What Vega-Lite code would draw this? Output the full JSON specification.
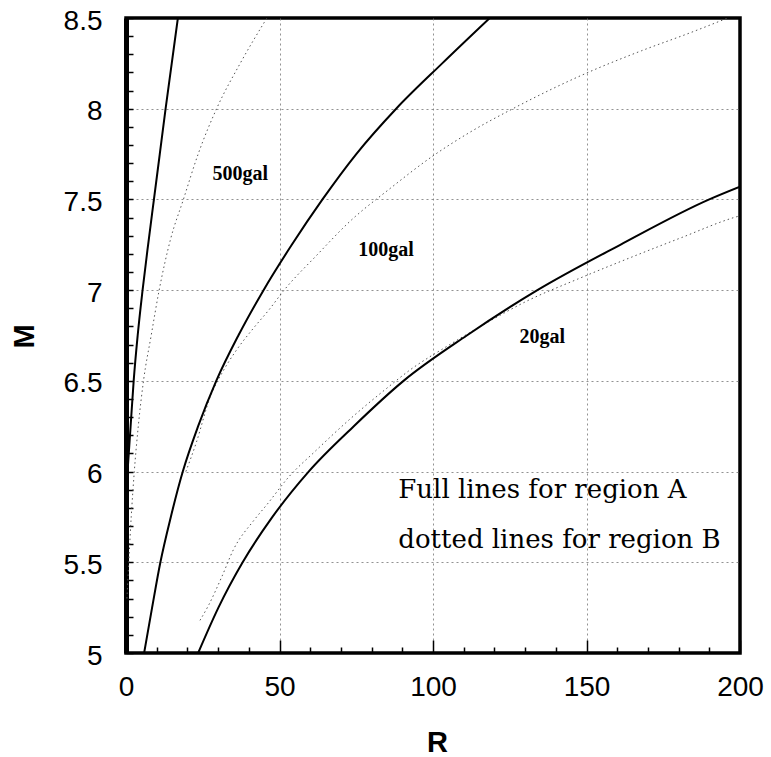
{
  "$schema": "https://vega.github.io/schema/vega-lite/v6.json",
  "width": 614,
  "height": 635,
  "autosize": {"type": "none"},
  "padding": {"left": 126, "top": 18, "right": 31, "bottom": 104},
  "background": "white",
  "config": {
    "view": {"stroke": "black", "strokeWidth": 3.5}
  },
  "datasets": {
    "curves": [
      {"curve": "500A", "region": "A", "R": 0.3, "M": 5.95},
      {"curve": "500A", "region": "A", "R": 1.5, "M": 6.25},
      {"curve": "500A", "region": "A", "R": 2.5, "M": 6.5},
      {"curve": "500A", "region": "A", "R": 3.8, "M": 6.75},
      {"curve": "500A", "region": "A", "R": 5.4, "M": 7.0},
      {"curve": "500A", "region": "A", "R": 7.2, "M": 7.25},
      {"curve": "500A", "region": "A", "R": 9.1, "M": 7.5},
      {"curve": "500A", "region": "A", "R": 11.0, "M": 7.75},
      {"curve": "500A", "region": "A", "R": 12.9, "M": 8.0},
      {"curve": "500A", "region": "A", "R": 14.9, "M": 8.25},
      {"curve": "500A", "region": "A", "R": 16.9, "M": 8.5},
      {"curve": "500B", "region": "B", "R": 0.3, "M": 5.3},
      {"curve": "500B", "region": "B", "R": 0.9, "M": 5.5},
      {"curve": "500B", "region": "B", "R": 1.7, "M": 5.75},
      {"curve": "500B", "region": "B", "R": 2.7, "M": 6.0},
      {"curve": "500B", "region": "B", "R": 4.0, "M": 6.25},
      {"curve": "500B", "region": "B", "R": 5.7, "M": 6.5},
      {"curve": "500B", "region": "B", "R": 8.2, "M": 6.75},
      {"curve": "500B", "region": "B", "R": 10.8, "M": 7.0},
      {"curve": "500B", "region": "B", "R": 14.5, "M": 7.28},
      {"curve": "500B", "region": "B", "R": 18.7, "M": 7.5},
      {"curve": "500B", "region": "B", "R": 23.5, "M": 7.75},
      {"curve": "500B", "region": "B", "R": 29.5, "M": 8.0},
      {"curve": "500B", "region": "B", "R": 37.2, "M": 8.25},
      {"curve": "500B", "region": "B", "R": 45.9, "M": 8.5},
      {"curve": "100A", "region": "A", "R": 5.9, "M": 5.0},
      {"curve": "100A", "region": "A", "R": 8.5, "M": 5.25},
      {"curve": "100A", "region": "A", "R": 11.2, "M": 5.5},
      {"curve": "100A", "region": "A", "R": 14.6, "M": 5.75},
      {"curve": "100A", "region": "A", "R": 18.5, "M": 6.0},
      {"curve": "100A", "region": "A", "R": 23.5, "M": 6.25},
      {"curve": "100A", "region": "A", "R": 29.4, "M": 6.5},
      {"curve": "100A", "region": "A", "R": 36.6, "M": 6.75},
      {"curve": "100A", "region": "A", "R": 44.8, "M": 7.0},
      {"curve": "100A", "region": "A", "R": 54.0, "M": 7.25},
      {"curve": "100A", "region": "A", "R": 64.0, "M": 7.5},
      {"curve": "100A", "region": "A", "R": 75.0, "M": 7.75},
      {"curve": "100A", "region": "A", "R": 88.0, "M": 8.0},
      {"curve": "100A", "region": "A", "R": 103.0, "M": 8.25},
      {"curve": "100A", "region": "A", "R": 118.5, "M": 8.5},
      {"curve": "100B", "region": "B", "R": 19.5, "M": 6.0},
      {"curve": "100B", "region": "B", "R": 22.9, "M": 6.16},
      {"curve": "100B", "region": "B", "R": 27.4, "M": 6.41},
      {"curve": "100B", "region": "B", "R": 31.5, "M": 6.55},
      {"curve": "100B", "region": "B", "R": 36.0, "M": 6.67},
      {"curve": "100B", "region": "B", "R": 41.5, "M": 6.79},
      {"curve": "100B", "region": "B", "R": 46.5, "M": 6.89},
      {"curve": "100B", "region": "B", "R": 51.5, "M": 7.0},
      {"curve": "100B", "region": "B", "R": 62.0, "M": 7.19},
      {"curve": "100B", "region": "B", "R": 73.0, "M": 7.38},
      {"curve": "100B", "region": "B", "R": 86.0, "M": 7.56},
      {"curve": "100B", "region": "B", "R": 100.0, "M": 7.74},
      {"curve": "100B", "region": "B", "R": 112.0, "M": 7.87},
      {"curve": "100B", "region": "B", "R": 126.0, "M": 8.0},
      {"curve": "100B", "region": "B", "R": 150.5, "M": 8.2},
      {"curve": "100B", "region": "B", "R": 168.0, "M": 8.32},
      {"curve": "100B", "region": "B", "R": 184.0, "M": 8.42},
      {"curve": "100B", "region": "B", "R": 196.0, "M": 8.5},
      {"curve": "20A", "region": "A", "R": 23.5, "M": 5.0},
      {"curve": "20A", "region": "A", "R": 30.1, "M": 5.25},
      {"curve": "20A", "region": "A", "R": 38.0, "M": 5.5},
      {"curve": "20A", "region": "A", "R": 47.7, "M": 5.75},
      {"curve": "20A", "region": "A", "R": 59.5, "M": 6.0},
      {"curve": "20A", "region": "A", "R": 74.2, "M": 6.25},
      {"curve": "20A", "region": "A", "R": 90.4, "M": 6.5},
      {"curve": "20A", "region": "A", "R": 111.0, "M": 6.75},
      {"curve": "20A", "region": "A", "R": 134.0, "M": 7.0},
      {"curve": "20A", "region": "A", "R": 161.0, "M": 7.25},
      {"curve": "20A", "region": "A", "R": 190.0, "M": 7.5},
      {"curve": "20A", "region": "A", "R": 200.0, "M": 7.57},
      {"curve": "20B", "region": "B", "R": 24.1, "M": 5.18},
      {"curve": "20B", "region": "B", "R": 26.8, "M": 5.26},
      {"curve": "20B", "region": "B", "R": 31.2, "M": 5.42},
      {"curve": "20B", "region": "B", "R": 35.0, "M": 5.57},
      {"curve": "20B", "region": "B", "R": 41.6, "M": 5.73},
      {"curve": "20B", "region": "B", "R": 46.0, "M": 5.82},
      {"curve": "20B", "region": "B", "R": 53.0, "M": 5.97},
      {"curve": "20B", "region": "B", "R": 61.5, "M": 6.11},
      {"curve": "20B", "region": "B", "R": 73.0, "M": 6.29},
      {"curve": "20B", "region": "B", "R": 85.0, "M": 6.46},
      {"curve": "20B", "region": "B", "R": 92.5, "M": 6.56},
      {"curve": "20B", "region": "B", "R": 104.5, "M": 6.69},
      {"curve": "20B", "region": "B", "R": 117.5, "M": 6.82},
      {"curve": "20B", "region": "B", "R": 130.6, "M": 6.94},
      {"curve": "20B", "region": "B", "R": 147.0, "M": 7.06},
      {"curve": "20B", "region": "B", "R": 164.4, "M": 7.18},
      {"curve": "20B", "region": "B", "R": 181.0, "M": 7.29},
      {"curve": "20B", "region": "B", "R": 198.0, "M": 7.4},
      {"curve": "20B", "region": "B", "R": 200.0, "M": 7.41}
    ],
    "labels": [
      {"kind": "gal", "text": "500gal", "R": 37.2, "M": 7.64},
      {"kind": "gal", "text": "100gal", "R": 84.7, "M": 7.22},
      {"kind": "gal", "text": "20gal", "R": 135.6, "M": 6.74},
      {"kind": "note", "text": "Full lines for region A", "R": 88.7, "M": 5.855},
      {"kind": "note", "text": "dotted lines for region B", "R": 88.7, "M": 5.578}
    ]
  },
  "encoding": {
    "x": {
      "field": "R",
      "type": "quantitative",
      "scale": {"domain": [0, 200], "nice": false, "zero": false},
      "axis": {
        "values": [0, 10, 20, 30, 40, 50, 60, 70, 80, 90, 100, 110, 120, 130, 140, 150, 160, 170, 180, 190, 200],
        "title": "R",
        "titleFont": "Liberation Sans",
        "titleFontSize": 29,
        "titleFontWeight": "bold",
        "titleColor": "black",
        "titleX": 311,
        "titleY": 98,
        "titleBaseline": "alphabetic",
        "titleAlign": "center",
        "labelFont": "Liberation Sans",
        "labelFontSize": 28,
        "labelColor": "black",
        "labelFlush": false,
        "labelOverlap": false,
        "labelPadding": 33,
        "labelExpr": "datum.value % 50 === 0 ? datum.label : ''",
        "tickColor": "black",
        "tickWidth": 1.5,
        "tickSize": {"condition": {"test": "datum.value % 50 === 0", "value": -13}, "value": -6},
        "grid": true,
        "gridColor": "#777777",
        "gridDash": [2, 3],
        "gridWidth": 1,
        "gridOpacity": {"condition": {"test": "datum.value % 50 === 0 && datum.value > 0 && datum.value < 200", "value": 0.8}, "value": 0},
        "domain": false
      }
    },
    "y": {
      "field": "M",
      "type": "quantitative",
      "scale": {"domain": [5, 8.5], "nice": false, "zero": false},
      "axis": {
        "values": [5, 5.1, 5.2, 5.3, 5.4, 5.5, 5.6, 5.7, 5.8, 5.9, 6, 6.1, 6.2, 6.3, 6.4, 6.5, 6.6, 6.7, 6.8, 6.9, 7, 7.1, 7.2, 7.3, 7.4, 7.5, 7.6, 7.7, 7.8, 7.9, 8, 8.1, 8.2, 8.3, 8.4, 8.5],
        "title": "M",
        "titleFont": "Liberation Sans",
        "titleFontSize": 29,
        "titleFontWeight": "bold",
        "titleColor": "black",
        "titleX": -93,
        "titleY": 318,
        "titleBaseline": "alphabetic",
        "titleAlign": "center",
        "labelFont": "Liberation Sans",
        "labelFontSize": 28,
        "labelColor": "black",
        "labelFlush": false,
        "labelOverlap": false,
        "labelPadding": 31,
        "labelOffset": 3,
        "labelExpr": "abs(datum.value * 2 - round(datum.value * 2)) < 0.001 ? format(datum.value, '~g') : ''",
        "tickColor": "black",
        "tickWidth": 1.5,
        "tickSize": -7,
        "grid": true,
        "gridColor": "#777777",
        "gridDash": [2, 3],
        "gridWidth": 1,
        "gridOpacity": {"condition": {"test": "abs(datum.value * 2 - round(datum.value * 2)) < 0.001 && datum.value > 5.01 && datum.value < 8.49", "value": 0.8}, "value": 0},
        "domain": true,
        "domainColor": "black",
        "domainWidth": 5
      }
    }
  },
  "layer": [
    {
      "data": {"name": "curves"},
      "transform": [{"filter": "datum.region === 'B'"}],
      "mark": {"type": "line", "color": "#555555", "strokeWidth": 1, "strokeDash": [1.5, 3], "interpolate": "monotone", "clip": true},
      "encoding": {"detail": {"field": "curve"}}
    },
    {
      "data": {"name": "curves"},
      "transform": [{"filter": "datum.region === 'A'"}],
      "mark": {"type": "line", "color": "black", "strokeWidth": 2, "interpolate": "monotone", "clip": true},
      "encoding": {"detail": {"field": "curve"}}
    },
    {
      "data": {"name": "labels"},
      "transform": [{"filter": "datum.kind === 'gal'"}],
      "mark": {"type": "text", "font": "Liberation Serif", "fontWeight": "bold", "fontSize": 20, "align": "center", "baseline": "middle", "color": "black"},
      "encoding": {"text": {"field": "text"}}
    },
    {
      "data": {"name": "labels"},
      "transform": [{"filter": "datum.kind === 'note'"}],
      "mark": {"type": "text", "font": "DejaVu Serif", "fontSize": 26, "align": "left", "baseline": "alphabetic", "color": "black"},
      "encoding": {"text": {"field": "text"}}
    }
  ]
}
